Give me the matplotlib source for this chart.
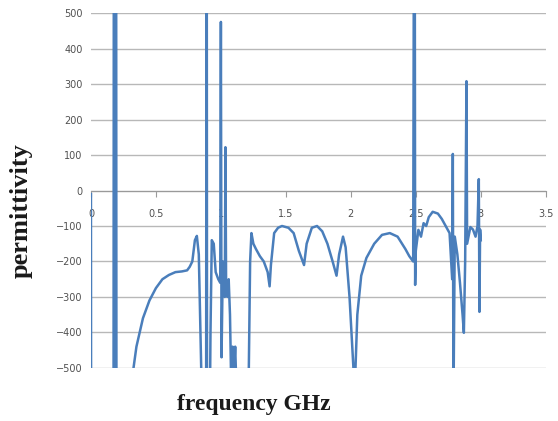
import matplotlib
matplotlib.use("Agg")
import matplotlib.pyplot as plt

freq = [0.0, 0.005, 0.17, 0.178, 0.185, 0.192, 0.2, 0.32, 0.35, 0.4, 0.45, 0.5, 0.55, 0.6, 0.65, 0.7, 0.74,
        0.76, 0.78, 0.80, 0.815, 0.83, 0.86, 0.885, 0.89, 0.895, 0.92, 0.93, 0.945, 0.96, 0.98, 0.995,
        1.0, 1.005, 1.015, 1.03, 1.035, 1.04, 1.05, 1.06, 1.07, 1.08, 1.09, 1.1, 1.11, 1.12, 1.2,
        1.215, 1.225, 1.235, 1.25, 1.27, 1.3, 1.33, 1.36, 1.375, 1.385, 1.41, 1.44, 1.47, 1.52, 1.56,
        1.6, 1.64, 1.66, 1.7, 1.74, 1.78, 1.82, 1.86, 1.89, 1.91, 1.94, 1.96, 1.99, 2.02, 2.035, 2.05,
        2.08, 2.12, 2.18, 2.24, 2.3, 2.36, 2.42, 2.45, 2.48, 2.49, 2.495, 2.5, 2.52, 2.54, 2.56, 2.58,
        2.6, 2.63, 2.67, 2.7, 2.73, 2.76, 2.78, 2.785, 2.79, 2.80, 2.82, 2.84, 2.86, 2.87, 2.88, 2.89,
        2.895, 2.92, 2.94, 2.96, 2.975, 2.985, 2.99, 2.995, 3.0]
permittivity = [-10, -3000, -3000, 2000, -2000, 2000, -3000, -520, -440, -360, -310, -275, -250, -238, -230, -228, -225,
                -215, -200, -140, -128, -180, -700, -1500, 1500, -1500, -400, -140, -150, -230, -250, -260,
                475, -470, -200, -300, 122, -260, -300, -250, -350, -560, -440, -520, -440, -560, -700,
                -500, -200, -120, -150, -165, -185, -200, -230, -270, -210, -120, -105, -100, -105, -120,
                -170, -210, -150, -105, -100, -115, -150, -200, -240, -180, -130, -160, -300, -500, -510, -350,
                -240, -190, -150, -125, -120, -130, -165, -185, -200, 1500, -266, -170, -111, -130, -92, -100,
                -75, -60, -65, -80, -100, -120, -250, 103, -600, -130, -180, -260, -350, -401, -200, 308,
                -150, -103, -110, -130, -100, 32, -342, -110, -140]

xticks = [0, 0.5, 1, 1.5, 2, 2.5, 3, 3.5]
xticklabels = ["0", "0.5", "1", "1.5", "2", "2.5", "3", "3.5"]
yticks = [-500, -400, -300, -200, -100, 0, 100, 200, 300, 400, 500]

fig = plt.figure(figsize=(5.58, 4.21), dpi=100)
ax = fig.add_axes([0.163, 0.126, 0.815, 0.843])

ax.plot(freq, permittivity, color="#4a7ebb", lw=1.8, zorder=3)

ax.set_xlim(0, 3.5)
ax.set_ylim(-500, 500)
ax.set_xticks(xticks)
ax.set_xticklabels(xticklabels)
ax.set_yticks(yticks)
ax.yaxis.grid(True, color="#b8b8b8", lw=1.0)
ax.set_axisbelow(True)

for s in ["top", "right", "left"]:
    ax.spines[s].set_visible(False)
ax.spines["bottom"].set_position(("data", 0))
ax.spines["bottom"].set_color("#9a9a9a")
ax.spines["bottom"].set_zorder(2)

ax.tick_params(axis="x", direction="out", length=4, width=0.8, color="#9a9a9a",
               labelsize=7, labelcolor="#505050", pad=9)
ax.tick_params(axis="y", length=0, labelsize=7, labelcolor="#505050", pad=6)

fig.text(0.038, 0.50, "permittivity", rotation=90, ha="center", va="center",
         family="Liberation Serif", fontweight="bold", fontsize=19, color="#1a1a1a")
fig.text(0.455, 0.04, "frequency GHz", ha="center", va="center",
         family="Liberation Serif", fontweight="bold", fontsize=17, color="#1a1a1a")

fig.savefig("out.png", dpi=100)
